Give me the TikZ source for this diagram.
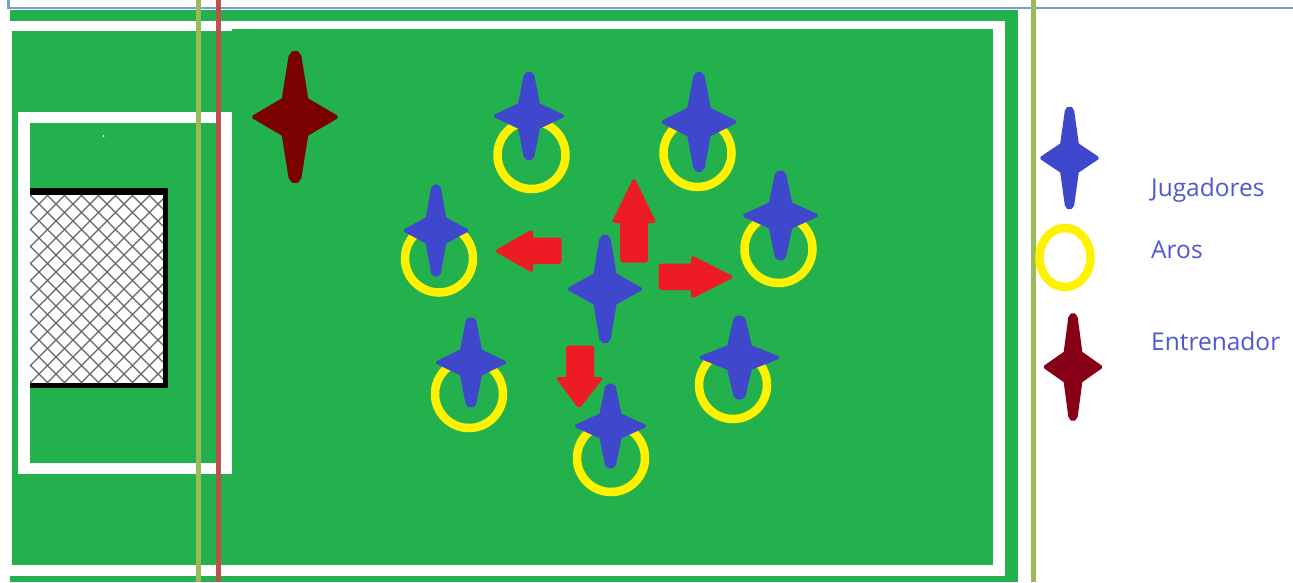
\documentclass[tikz,border=0pt]{standalone}
\usepackage{fontspec}
\setmainfont{Open Sans}
\definecolor{field}{HTML}{23B14D}
\definecolor{playerblue}{HTML}{3F48CC}
\definecolor{coachred}{HTML}{7B0000}
\definecolor{legendred}{HTML}{880015}
\definecolor{hoop}{HTML}{FFF200}
\definecolor{arrowred}{HTML}{ED1C24}
\definecolor{olive}{HTML}{9BBB59}
\definecolor{redline}{HTML}{C0504D}
\definecolor{topline}{HTML}{7C9DD2}
\definecolor{labelblue}{HTML}{4F58CF}
\tikzset{
  whiteline/.style={fill=white,draw=none},
  hoopring/.style={draw=hoop,line width=8.5pt,fill=none},
  redarrow/.style={fill=arrowred,draw=arrowred,line width=2pt,rounded corners=2pt,line join=round},
  legendtext/.style={anchor=base west,inner sep=0pt,text=labelblue,font=\fontsize{24.5}{28}\selectfont},
  vline/.style={line width=5pt}
}
% \starshape{x}{y}{halfwidth}{halfheight}{colour}
\newcommand{\starshape}[5]{%
  \begin{scope}[shift={(#1,#2)},x=#3pt,y=-#4pt]
    \path[fill=#5,draw=#5,line width=2.5pt,line join=round]
      (-.05,-.98) -- (.05,-.98) -- (.12,-.92) -- (.28,-.27) -- (.96,-.01) -- (.96,.01) -- (.28,.27) -- (.12,.92) -- (.05,.98) --
      (-.05,.98) -- (-.12,.92) -- (-.28,.27) -- (-.96,.01) -- (-.96,-.01) -- (-.28,-.27) -- (-.12,-.92) -- cycle;
  \end{scope}}
\newcommand{\hoopat}[2]{\draw[hoopring] (#1,#2) circle[radius=34];}
\begin{document}
\begin{tikzpicture}[x=1pt,y=-1pt]
\useasboundingbox (0,0) rectangle (1293,582);
\fill[white] (0,0) rectangle (1293,582);
% field
\fill[field] (10,10) rectangle (1018,582);
% outer white lines
\fill[whiteline] (10,20.5) rectangle (232,31);
\fill[whiteline] (232,20.5) rectangle (1005,29);
\fill[whiteline] (993,20.5) rectangle (1005,576);
\fill[whiteline] (10,564.5) rectangle (1005,576);
\fill[whiteline] (10,20.5) rectangle (12,576);
% penalty box
\fill[whiteline] (17.5,112) rectangle (232,473.5);
\fill[field] (30,122.5) rectangle (221,463);
\fill[white] (103.5,136) circle[radius=1];
% goal
\fill[black] (30,188) rectangle (168,388);
\fill[white] (30,195) rectangle (163,383);
\begin{scope}
  \clip (30,195) rectangle (163,383);
  \foreach \k in {-221,-204,...,340} {
    \draw[black!60,line width=1.2pt] (30+\k,195) -- (30+\k+188,383);
    \draw[black!60,line width=1.2pt] (30+\k,383) -- (30+\k+188,195);
  }
\end{scope}
% hoops
\hoopat{531.5}{155}
\hoopat{697.5}{153}
\hoopat{778.5}{249}
\hoopat{439}{258.5}
\hoopat{469}{394}
\hoopat{733}{385}
\hoopat{611}{458}
% arrows
\path[redarrow] (634,179) -- (655,222) -- (647,222) -- (647,261.5) -- (621,261.5) -- (621,222) -- (613,222) -- cycle;
\path[redarrow] (496,251) -- (532,230.5) -- (532,238.5) -- (560.5,238.5) -- (560.5,263) -- (532,263) -- (532,271.5) -- cycle;
\path[redarrow] (732.5,277) -- (692,256.5) -- (692,264.5) -- (659.5,264.5) -- (659.5,289) -- (692,289) -- (692,297.5) -- cycle;
\path[redarrow] (579,407.5) -- (602,378) -- (593,378) -- (593,346.5) -- (567,346.5) -- (567,378) -- (557,378) -- cycle;
% stars
\starshape{295}{117}{43}{66}{coachred}
\starshape{529}{116}{35}{43.5}{playerblue}
\starshape{699}{122}{37.5}{49.5}{playerblue}
\starshape{780.5}{215.5}{37.5}{44.5}{playerblue}
\starshape{436}{230.5}{32}{45.5}{playerblue}
\starshape{605}{289}{37}{54}{playerblue}
\starshape{471}{362.5}{35}{44.5}{playerblue}
\starshape{739.5}{357.5}{40}{41.5}{playerblue}
\starshape{610.5}{426}{35.5}{42}{playerblue}
% frame lines
\draw[topline,line width=2.5pt] (8.5,0) -- (8.5,8) -- (1293,8);
\draw[olive,vline] (198.5,0) -- (198.5,582);
\draw[redline,vline] (218.5,0) -- (218.5,582);
\draw[olive,vline] (1033.5,0) -- (1033.5,582);
% legend
\starshape{1069.5}{158}{29}{51}{playerblue}
\draw[hoop,line width=8.5pt] (1065,257.5) ellipse[x radius=25.5,y radius=29.5];
\starshape{1073}{367}{29}{53.5}{legendred}
\node[legendtext] (jug) at (1151,196) {Jugadores};
\node[legendtext] (aros) at (1151,258) {Aros};
\node[legendtext] (ent) at (1151,350) {Entrenador};
\end{tikzpicture}
\end{document}
